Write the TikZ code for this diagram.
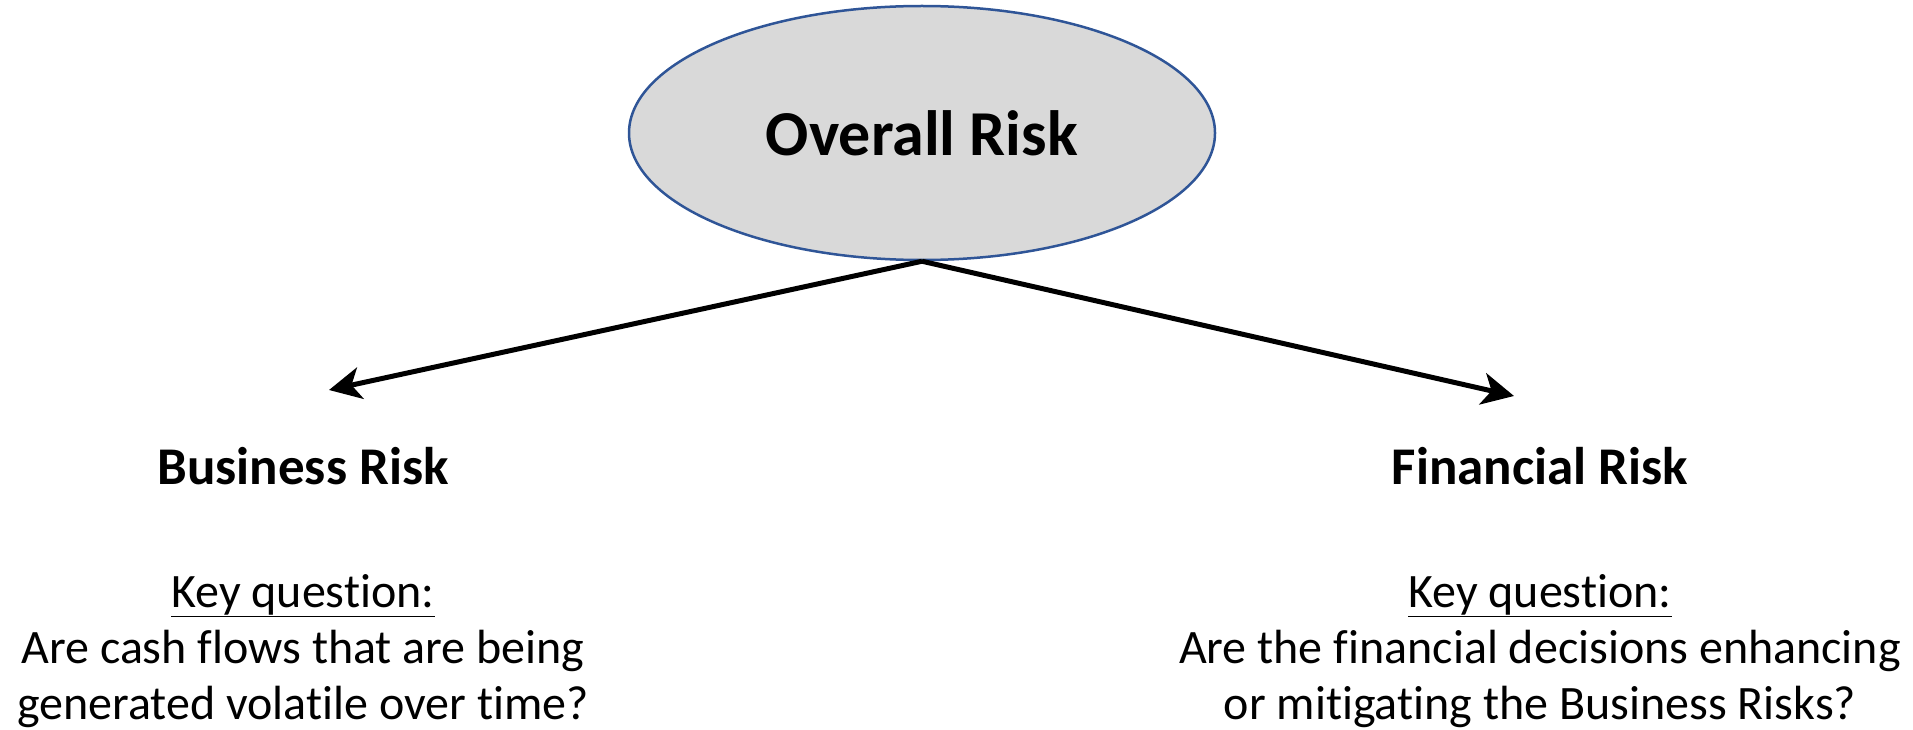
\documentclass[tikz,border=0pt]{standalone}
\usepackage{fontspec}
\setmainfont[Ligatures=CommonOff]{Carlito}
\usetikzlibrary{arrows.meta,shapes.geometric}
\definecolor{ovfill}{HTML}{D9D9D9}
\definecolor{ovline}{HTML}{2F5597}
\begin{document}
\begin{tikzpicture}[x=1pt,y=-1pt,
    riskbox/.style={font=\fontsize{53}{64}\selectfont\bfseries},
    question/.style={align=center,font=\fontsize{48}{56}\selectfont},
    link/.style={line width=5pt,-{Stealth[length=32pt,width=32pt,inset=9pt]}}]
  \useasboundingbox (0,0) rectangle (1913,730);

  \node[ellipse,draw=ovline,fill=ovfill,line width=2.5pt,inner sep=0pt,
    minimum width=586pt,minimum height=254pt,
    font=\fontsize{64}{76}\selectfont\bfseries] (overall) at (922,133) {Overall Risk};

  \coordinate (busend) at (329,390);
  \coordinate (finend) at (1514,396);
  \draw[link] (overall.south) -- (busend);
  \draw[link] (overall.south) -- (finend);

  \node[riskbox] (business) at (303,466) {Business Risk};
  \node[riskbox] (financial) at (1540,466) {Financial Risk};

  \node[question] (busq) at (303,651)
    {\underline{Key question:}\\ Are cash flows that are being\\ generated volatile over time?};
  \node[question] (finq) at (1540,651)
    {\underline{Key question:}\\ Are the financial decisions enhancing\\ or mitigating the Business Risks?};
\end{tikzpicture}
\end{document}
